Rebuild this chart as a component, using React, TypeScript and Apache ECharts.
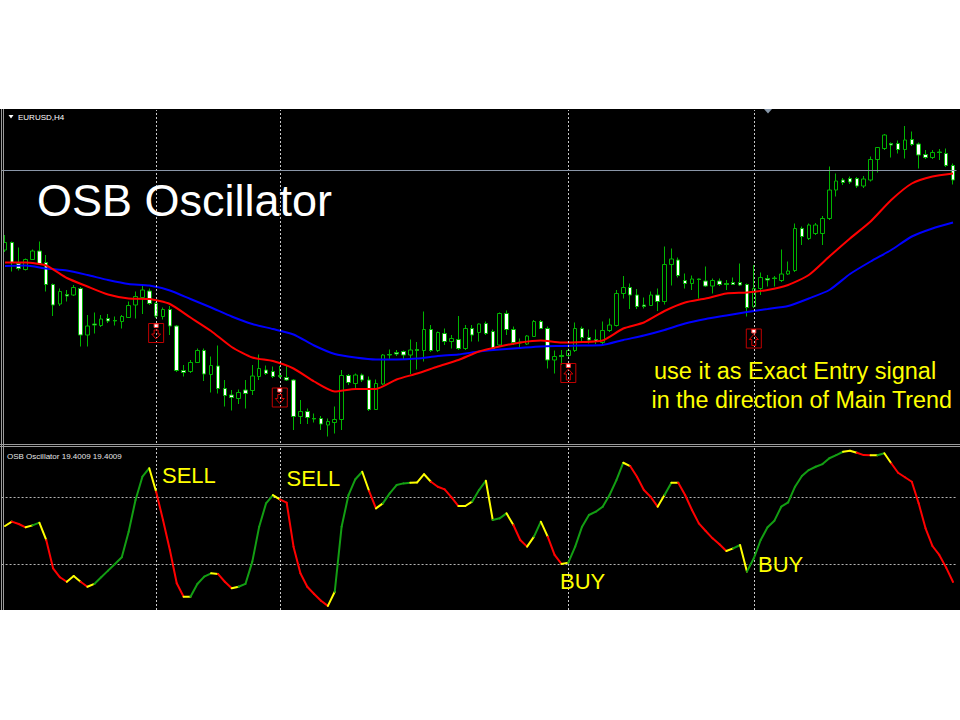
import React, { useEffect, useRef } from "react";
import * as echarts from "echarts";

// EURUSD H4 candles: [open, close, low, high]
const candles: number[][] = [
  [1.1186, 1.1201, 1.1182, 1.1216], [1.1201, 1.1161, 1.1143, 1.1203], [1.1159, 1.1149, 1.1145, 1.1191], [1.1147, 1.1167, 1.1145, 1.1169],
  [1.1167, 1.1184, 1.1166, 1.1187], [1.1184, 1.1159, 1.1156, 1.1203], [1.1161, 1.1117, 1.1103, 1.1176], [1.1117, 1.1076, 1.1054, 1.1119],
  [1.1078, 1.1103, 1.1074, 1.1109], [1.1097, 1.1094, 1.1083, 1.1106], [1.1096, 1.1111, 1.1094, 1.1116], [1.1109, 1.1016, 1.0993, 1.1112],
  [1.1016, 1.1034, 1.0993, 1.1056], [1.1038, 1.1036, 1.1019, 1.1061], [1.1035, 1.1048, 1.1032, 1.1056], [1.1049, 1.1044, 1.1040, 1.1058],
  [1.1045, 1.1044, 1.1035, 1.1053], [1.1043, 1.1053, 1.1029, 1.1056], [1.1051, 1.1075, 1.1050, 1.1083], [1.1076, 1.1093, 1.1049, 1.1103],
  [1.1091, 1.1106, 1.1058, 1.1114], [1.1104, 1.1079, 1.1076, 1.1109], [1.1079, 1.1054, 1.1050, 1.1082], [1.1053, 1.1067, 1.1047, 1.1071],
  [1.1067, 1.1034, 1.1016, 1.1074], [1.1034, 1.0945, 1.0942, 1.1036], [1.0945, 1.0941, 1.0933, 1.0956], [1.0943, 1.0961, 1.0940, 1.0966],
  [1.0961, 1.0985, 1.0960, 1.0989], [1.0985, 1.0938, 1.0924, 1.0989], [1.0937, 1.0955, 1.0901, 1.0973], [1.0954, 1.0909, 1.0899, 1.0995],
  [1.0909, 1.0895, 1.0873, 1.0926], [1.0896, 1.0891, 1.0865, 1.0906], [1.0889, 1.0901, 1.0878, 1.0907], [1.0906, 1.0899, 1.0869, 1.0926],
  [1.0905, 1.0934, 1.0896, 1.0956], [1.0933, 1.0949, 1.0926, 1.0977], [1.0946, 1.0939, 1.0936, 1.0955], [1.0943, 1.0933, 1.0930, 1.0953],
  [1.0935, 1.0933, 1.0930, 1.0954], [1.0931, 1.0926, 1.0924, 1.0955], [1.0926, 1.0853, 1.0826, 1.0928], [1.0853, 1.0863, 1.0838, 1.0886],
  [1.0863, 1.0851, 1.0838, 1.0869], [1.0849, 1.0848, 1.0841, 1.0859], [1.0849, 1.0838, 1.0826, 1.0854], [1.0836, 1.0843, 1.0813, 1.0849],
  [1.0841, 1.0847, 1.0819, 1.0873], [1.0847, 1.0935, 1.0826, 1.0946], [1.0935, 1.0921, 1.0916, 1.0938], [1.0919, 1.0936, 1.0906, 1.0939],
  [1.0936, 1.0926, 1.0922, 1.0939], [1.0926, 1.0867, 1.0864, 1.0933], [1.0867, 1.0919, 1.0866, 1.0927], [1.0918, 1.0976, 1.0916, 1.0978],
  [1.0977, 1.0976, 1.0966, 1.0987], [1.0981, 1.0978, 1.0974, 1.0986], [1.0983, 1.0976, 1.0966, 1.0985], [1.0976, 1.0986, 1.0938, 1.1007],
  [1.0987, 1.0985, 1.0947, 1.1002], [1.0985, 1.1027, 1.0963, 1.1063], [1.1027, 1.0985, 1.0982, 1.1036], [1.0985, 1.1021, 1.0982, 1.1023],
  [1.1019, 1.1003, 1.0996, 1.1029], [1.1003, 1.1009, 1.0989, 1.1016], [1.1007, 1.0989, 1.0986, 1.1054], [1.0989, 1.1029, 1.0986, 1.1036],
  [1.1029, 1.1016, 1.1003, 1.1036], [1.1021, 1.1038, 1.1003, 1.1039], [1.1039, 1.1019, 1.1016, 1.1043], [1.1023, 1.0989, 1.0986, 1.1027],
  [1.0996, 1.1059, 1.0994, 1.1061], [1.1059, 1.1027, 1.1016, 1.1065], [1.1027, 1.1001, 1.0996, 1.1033], [1.1002, 1.1000, 1.0991, 1.1009],
  [1.0998, 1.1014, 1.0996, 1.1016], [1.1013, 1.1043, 1.1012, 1.1046], [1.1043, 1.1029, 1.1028, 1.1046], [1.1029, 1.0966, 1.0949, 1.1033],
  [1.0966, 1.0973, 1.0939, 1.0985], [1.0975, 1.0973, 1.0956, 1.0986], [1.0975, 1.0985, 1.0972, 1.0989], [1.0985, 1.1029, 1.0982, 1.1041],
  [1.1029, 1.1011, 1.1003, 1.1033], [1.1011, 1.1006, 1.0999, 1.1027], [1.1007, 1.1003, 1.0998, 1.1027], [1.1001, 1.1025, 1.0998, 1.1043],
  [1.1025, 1.1036, 1.1022, 1.1049], [1.1035, 1.1099, 1.1033, 1.1106], [1.1099, 1.1111, 1.1089, 1.1134], [1.1111, 1.1096, 1.1068, 1.1119],
  [1.1096, 1.1073, 1.1068, 1.1108], [1.1076, 1.1073, 1.1069, 1.1091], [1.1075, 1.1096, 1.1074, 1.1103], [1.1096, 1.1083, 1.1064, 1.1109],
  [1.1083, 1.1157, 1.1077, 1.1193], [1.1157, 1.1168, 1.1115, 1.1189], [1.1166, 1.1135, 1.1131, 1.1171], [1.1125, 1.1119, 1.1109, 1.1139],
  [1.1119, 1.1128, 1.1106, 1.1135], [1.1128, 1.1127, 1.1089, 1.1129], [1.1124, 1.1114, 1.1112, 1.1153], [1.1114, 1.1125, 1.1099, 1.1129],
  [1.1124, 1.1117, 1.1114, 1.1129], [1.1119, 1.1117, 1.1106, 1.1126], [1.1121, 1.1117, 1.1116, 1.1131], [1.1121, 1.1116, 1.1114, 1.1159],
  [1.1117, 1.1071, 1.1053, 1.1119], [1.1073, 1.1109, 1.1070, 1.1156], [1.1109, 1.1131, 1.1096, 1.1141], [1.1129, 1.1126, 1.1113, 1.1136],
  [1.1130, 1.1129, 1.1113, 1.1134], [1.1125, 1.1138, 1.1122, 1.1187], [1.1138, 1.1144, 1.1136, 1.1163], [1.1145, 1.1229, 1.1142, 1.1239],
  [1.1229, 1.1213, 1.1196, 1.1233], [1.1209, 1.1236, 1.1206, 1.1239], [1.1219, 1.1236, 1.1216, 1.1240], [1.1219, 1.1249, 1.1196, 1.1254],
  [1.1249, 1.1306, 1.1246, 1.1353], [1.1306, 1.1324, 1.1293, 1.1339], [1.1326, 1.1321, 1.1316, 1.1330], [1.1329, 1.1322, 1.1318, 1.1333],
  [1.1329, 1.1314, 1.1310, 1.1332], [1.1314, 1.1328, 1.1310, 1.1334], [1.1326, 1.1367, 1.1323, 1.1373], [1.1367, 1.1391, 1.1341, 1.1392],
  [1.1389, 1.1416, 1.1386, 1.1418], [1.1399, 1.1396, 1.1371, 1.1401], [1.1399, 1.1387, 1.1379, 1.1405], [1.1387, 1.1406, 1.1369, 1.1434],
  [1.1407, 1.1397, 1.1394, 1.1423], [1.1398, 1.1376, 1.1349, 1.1401], [1.1377, 1.1371, 1.1368, 1.1386], [1.1371, 1.1381, 1.1368, 1.1386],
  [1.1382, 1.1381, 1.1366, 1.1388], [1.1379, 1.1355, 1.1352, 1.1389], [1.1355, 1.1326, 1.1317, 1.1359],
];

const categories = candles.map((_, i) => String(i));

// moving averages sampled every third bar
const maIndex = [
  0, 3, 6, 9, 12, 15, 18, 21, 24, 27, 30, 33, 36, 39, 42, 45, 48, 51, 54, 57, 60, 63, 66, 69,
  72, 75, 78, 81, 84, 87, 90, 93, 96, 99, 102, 105, 108, 111, 114, 117, 120, 123, 126, 129, 132, 135, 138,
];
const redMA = [
  1.1161, 1.1161, 1.1155, 1.113, 1.1113, 1.1097, 1.1089, 1.1088, 1.1078, 1.1051,
  1.1024, 1.0992, 1.0971, 1.0964, 1.0949, 1.0923, 1.0903, 1.0908, 1.0908, 1.0927,
  1.0939, 1.0953, 1.0966, 1.0983, 1.0993, 1.1001, 1.1005, 1.1001, 1.1002, 1.1005,
  1.1029, 1.1041, 1.1064, 1.1081, 1.1089, 1.1099, 1.1101, 1.1106, 1.1116, 1.1136,
  1.1173, 1.1209, 1.1243, 1.1286, 1.1319, 1.1333, 1.1339,
];
const blueMA = [
  1.1154, 1.1155, 1.1149, 1.1145, 1.1136, 1.1126, 1.1118, 1.1115, 1.1105, 1.1088,
  1.1071, 1.1053, 1.1038, 1.1028, 1.1017, 1.0995, 1.0978, 1.0971, 1.0967, 1.0967,
  1.0969, 1.0974, 1.0977, 1.0983, 1.0987, 1.099, 1.0993, 1.0994, 1.0995, 1.0996,
  1.1006, 1.1015, 1.1026, 1.1039, 1.1048, 1.1055, 1.1062, 1.1068, 1.1074, 1.1089,
  1.1106, 1.1138, 1.1163, 1.1186, 1.1213, 1.1229, 1.1241,
];

const currentPrice = 1.1345;

// OSB Oscillator, one value per bar
const oscValues = [
  53.0, 55.6, 54.2, 52.2, 53.4, 55.0, 44.6, 27.6, 22.2, 19.5,
  23.0, 19.5, 16.5, 18.2, 22.2, 26.2, 30.2, 34.2, 49.6, 68.6,
  82.6, 87.7, 73.6, 56.6, 38.6, 18.6, 10.5, 10.5, 18.2, 22.6,
  24.6, 24.2, 19.5, 15.6, 16.5, 18.2, 31.6, 52.6, 66.6, 71.6,
  69.0, 67.0, 40.6, 24.6, 16.5, 12.2, 8.1, 5.0, 13.5, 52.6,
  71.6, 81.1, 85.6, 74.0, 63.6, 66.6, 72.6, 77.6, 78.6, 79.0,
  79.2, 84.1, 79.6, 76.6, 75.0, 70.2, 65.0, 65.0, 67.6, 74.6,
  80.2, 56.6, 57.6, 60.6, 53.6, 44.6, 40.6, 46.6, 55.6, 46.6,
  35.6, 30.2, 31.0, 40.6, 52.6, 59.6, 61.6, 64.6, 71.6, 80.6,
  91.0, 89.0, 82.6, 74.6, 70.4, 64.6, 71.6, 79.0, 79.0, 71.6,
  62.6, 54.6, 50.0, 45.6, 42.0, 38.0, 39.6, 41.6, 25.6, 33.6,
  44.6, 52.2, 56.2, 64.6, 67.2, 76.6, 83.0, 86.6, 88.6, 90.2,
  93.7, 95.6, 97.6, 98.2, 97.0, 95.6, 95.5, 95.5, 96.7, 90.7,
  85.0, 82.3, 79.6, 66.6, 51.6, 41.0, 35.6, 28.0, 19.4,
];
// colour of each segment (bar i -> i+1): g = rising, r = falling, y = turning
const oscSegColors = (
  "yrrygyrrry" + "yryggggggg" + "gyrrrryggg" + "yrrygggggy" + "rrrrrrrygg" +
  "ggyryggggy" + "yyrrrryygg" + "yggyrrygyr" + "rygggggggg" + "yrrrrygyrr" +
  "rrrrrygygg" + "gggggggggg" + "ggyyrrygyr" + "rrrrrrrr"
).split("");
const oscLevels = [70, 30];

// entry signals
const signalIdx = [22, 40, 82, 109];
const signalPrice = [1.102, 1.0891, 1.094, 1.1009];
const signalDir = ["down", "down", "up", "up"];

const FONT = "'Liberation Sans', Arial, sans-serif";
const GREEN = "#00b400";
const dotted = { color: "#c8c8c8", width: 1, type: [2, 2] as any };

export default function App() {
  const ref = useRef<HTMLDivElement>(null);

  useEffect(() => {
    document.body.style.margin = "0";
    const chart = echarts.init(ref.current!, undefined, { renderer: "svg" });
    const segColorMap: Record<string, string> = { g: "#139e13", r: "#ff0000", y: "#ffff00" };

    const vLines = signalIdx.map((i) => ({ xAxis: String(i), lineStyle: dotted }));

    const option: any = {
      animation: false,
      backgroundColor: "#ffffff",
      grid: [
        { left: 1.565, right: 3.535, top: 110, height: 333 },
        { left: 1.565, right: 3.535, top: 448, height: 162 },
      ],
      xAxis: [
        { type: "category", data: categories, gridIndex: 0, show: false },
        { type: "category", data: categories, gridIndex: 1, show: false },
      ],
      yAxis: [
        { type: "value", gridIndex: 0, min: 1.08, max: 1.1466, show: false },
        { type: "value", gridIndex: 1, min: 2.55, max: 99.85, show: false },
      ],
      graphic: [
        { type: "rect", z: -100, shape: { x: 0, y: 109, width: 960, height: 501 }, style: { fill: "#000000" } },
        { type: "line", z: 50, shape: { x1: 1.5, y1: 109, x2: 1.5, y2: 610 }, style: { stroke: "#9a9a9a", lineWidth: 1 } },
        { type: "line", z: 50, shape: { x1: 3.5, y1: 109, x2: 3.5, y2: 610 }, style: { stroke: "#9a9a9a", lineWidth: 1 } },
        { type: "line", z: 50, shape: { x1: 0, y1: 444.5, x2: 960, y2: 444.5 }, style: { stroke: "#9a9a9a", lineWidth: 1 } },
        { type: "line", z: 50, shape: { x1: 0, y1: 446.5, x2: 960, y2: 446.5 }, style: { stroke: "#9a9a9a", lineWidth: 1 } },
        { type: "polygon", z: 50, shape: { points: [[764, 109], [772, 109], [768, 113.5]] }, style: { fill: "#8898aa" } },
        { type: "polygon", z: 50, shape: { points: [[8.5, 115], [13.5, 115], [11, 118.5]] }, style: { fill: "#ffffff" } },
        { type: "text", z: 50, x: 18, y: 117.5, style: { text: "EURUSD,H4", fill: "#ffffff", font: `8px ${FONT}`, textVerticalAlign: "middle" } },
        { type: "text", z: 50, x: 7, y: 456, style: { text: "OSB Oscillator 19.4009 19.4009", fill: "#e6e6e6", font: `8px ${FONT}`, textVerticalAlign: "middle" } },
        { type: "text", z: 50, x: 37, y: 200, style: { text: "OSB Oscillator", fill: "#ffffff", font: `45px ${FONT}`, textVerticalAlign: "middle" } },
        { type: "text", z: 50, x: 654, y: 371, style: { text: "use it as Exact Entry signal", fill: "#ffff00", font: `23.5px ${FONT}`, textVerticalAlign: "middle" } },
        { type: "text", z: 50, x: 651.5, y: 399.5, style: { text: "in the direction of Main Trend", fill: "#ffff00", font: `23.3px ${FONT}`, textVerticalAlign: "middle" } },
        { type: "text", z: 50, x: 162, y: 475, style: { text: "SELL", fill: "#ffff00", font: `22px ${FONT}`, textVerticalAlign: "middle" } },
        { type: "text", z: 50, x: 286.5, y: 478, style: { text: "SELL", fill: "#ffff00", font: `22px ${FONT}`, textVerticalAlign: "middle" } },
        { type: "text", z: 50, x: 560, y: 581, style: { text: "BUY", fill: "#ffff00", font: `22px ${FONT}`, textVerticalAlign: "middle" } },
        { type: "text", z: 50, x: 758, y: 564, style: { text: "BUY", fill: "#ffff00", font: `22px ${FONT}`, textVerticalAlign: "middle" } },
      ],
      series: [
        {
          type: "candlestick",
          xAxisIndex: 0,
          yAxisIndex: 0,
          data: candles,
          barWidth: 4,
          z: 2,
          itemStyle: {
            color: "#000000",
            color0: "#ffffff",
            borderColor: GREEN,
            borderColor0: GREEN,
            borderColorDoji: GREEN,
            borderWidth: 1,
          },
          markLine: {
            silent: true,
            symbol: "none",
            label: { show: false },
            data: vLines,
          },
        },
        {
          type: "line",
          xAxisIndex: 0,
          yAxisIndex: 0,
          data: maIndex.map((x, k) => [x, blueMA[k]]),
          showSymbol: false,
          smooth: 0.2,
          z: 3,
          lineStyle: { color: "#0000ff", width: 2 },
          markLine: {
            silent: true,
            symbol: "none",
            precision: 4,
            label: { show: false },
            data: [{ yAxis: currentPrice, lineStyle: { color: "#8a96a8", width: 1, type: "solid" } }],
          },
        },
        {
          type: "line",
          xAxisIndex: 0,
          yAxisIndex: 0,
          data: maIndex.map((x, k) => [x, redMA[k]]),
          showSymbol: false,
          smooth: 0.2,
          z: 4,
          lineStyle: { color: "#ff0000", width: 2 },
        },
        {
          type: "custom",
          xAxisIndex: 0,
          yAxisIndex: 0,
          z: 5,
          data: signalIdx.map((x, k) => [x, signalPrice[k]]),
          renderItem: (params: any, api: any) => {
            const p = api.coord([api.value(0), api.value(1)]);
            const x = p[0];
            const y = p[1];
            const down = signalDir[params.dataIndex] === "down";
            const arrow = down
              ? [[x - 2, y - 3], [x + 2, y - 3], [x + 2, y + 1], [x + 4.5, y + 1], [x, y + 6], [x - 4.5, y + 1], [x - 2, y + 1]]
              : [[x, y - 4], [x + 4.5, y + 1], [x + 2, y + 1], [x + 2, y + 7], [x - 2, y + 7], [x - 2, y + 1], [x - 4.5, y + 1]];
            return {
              type: "group",
              children: [
                { type: "rect", shape: { x: x - 7.5, y: y - 9.5, width: 15, height: 19 }, style: { fill: "none", stroke: "#c00000", lineWidth: 1 } },
                { type: "polygon", shape: { points: arrow }, style: { fill: "none", stroke: "#d00000", lineWidth: 1 } },
                { type: "rect", shape: { x: x - 2, y: y - 9, width: 4, height: 3.5 }, style: { fill: "#ffffff", stroke: "#ff3030", lineWidth: 1 } },
              ],
            };
          },
        },
        {
          type: "line",
          xAxisIndex: 1,
          yAxisIndex: 1,
          data: [],
          markLine: {
            silent: true,
            symbol: "none",
            precision: 4,
            label: { show: false },
            data: [
              ...oscLevels.map((v) => ({ yAxis: v, lineStyle: { color: "#b4b4b4", width: 1, type: [2, 2] } })),
              ...vLines,
            ],
          },
        },
        {
          type: "custom",
          xAxisIndex: 1,
          yAxisIndex: 1,
          z: 5,
          data: oscValues.map((v, i) => [i, v]),
          encode: { x: 0, y: 1 },
          renderItem: (params: any, api: any) => {
            const i = params.dataIndex;
            if (i >= oscValues.length - 1) return null;
            const p1 = api.coord([i, oscValues[i]]);
            const p2 = api.coord([i + 1, oscValues[i + 1]]);
            return {
              type: "line",
              shape: { x1: p1[0], y1: p1[1], x2: p2[0], y2: p2[1] },
              style: { stroke: segColorMap[oscSegColors[i]] || "#139e13", lineWidth: 2, lineCap: "round" },
            };
          },
        },
      ],
    };
    chart.setOption(option);
    return () => chart.dispose();
  }, []);

  return (
    <div
      ref={ref}
      style={{ position: "absolute", left: 0, top: 0, width: 960, height: 720, background: "#ffffff" }}
    />
  );
}
